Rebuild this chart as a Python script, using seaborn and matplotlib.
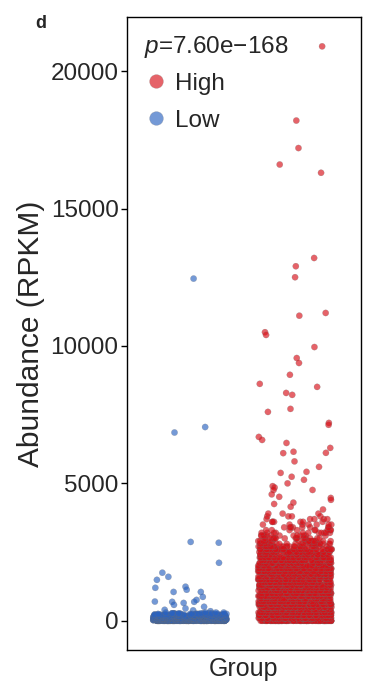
import numpy as np
import pandas as pd
import matplotlib
matplotlib.use("Agg")
import matplotlib.pyplot as plt
import seaborn as sns

# ---------------- data ----------------
groups = ["Low", "High"]
legend_order = ["High", "Low"]
colors = {"High": "#d81018", "Low": "#2a62c0"}
p_label = "$p$=7.60e\u2212168"
y_ticks = [0, 5000, 10000, 15000, 20000]

# High group: scattered points
high_sparse = [20900, 18200, 17200, 16600, 16300, 13200, 12900, 12500, 11200,
               11100, 10500, 10400, 9960, 9560, 9380, 8950, 8620, 8510, 8290,
               8220, 7710, 7600, 7200, 7130, 6690, 6580, 6470, 6290, 6150,
               6110, 6100, 5800, 5600, 5420, 5380, 5240, 5130, 5000, 4900,
               4850, 4760, 4760, 4600, 4510, 4470, 4400, 4300, 4250, 4150, 4050]
# High group: dense block (value levels and number of points at each level)
high_levels = [0, 100, 200, 300, 400, 500, 600, 700, 800, 900, 1000, 1100, 1200,
               1300, 1400, 1500, 1600, 1700, 1800, 1900, 2000, 2100, 2200, 2300,
               2400, 2500, 2600, 2700, 2800, 2900, 3000, 3100, 3200, 3300, 3400,
               3500, 3600, 3700, 3800, 3900]
high_counts = [120, 110, 100, 95, 90, 90, 85, 85, 80, 80, 78, 76, 74, 72, 70, 68,
               66, 64, 62, 60, 58, 55, 52, 50, 46, 42, 38, 32, 26, 20, 16, 13,
               11, 9, 8, 7, 6, 5, 4, 3]

# Low group: scattered points
low_sparse = [12450, 7050, 6850, 2870, 2840, 2110, 1750, 1600, 1490, 1240, 1200,
              1130, 1050, 1050, 870, 760, 700, 690, 690, 650, 580, 510, 450, 400,
              380, 350]
# Low group: dense band
low_levels = [0, 25, 50, 75, 100, 125, 150, 175, 200, 225, 250, 275, 300]
low_counts = [140, 120, 100, 90, 80, 70, 60, 50, 40, 30, 18, 8, 4]

# ---------------- build table ----------------
high_vals = list(high_sparse) + list(np.repeat(high_levels, high_counts))
low_vals = list(low_sparse) + list(np.repeat(low_levels, low_counts))
df = pd.DataFrame({
    "Group": ["High"] * len(high_vals) + ["Low"] * len(low_vals),
    "Abundance": high_vals + low_vals,
})

# ---------------- plot ----------------
sns.set_style("white")
plt.rcParams["font.family"] = ["Liberation Sans", "DejaVu Sans"]
plt.rcParams["mathtext.fontset"] = "custom"
plt.rcParams["mathtext.it"] = "Liberation Sans:italic"
plt.rcParams["mathtext.rm"] = "Liberation Sans"

fig = plt.figure(figsize=(3.71, 6.84), dpi=100)
ax = fig.add_axes([0.342, 0.05, 0.631, 0.925])

np.random.seed(3)
sns.stripplot(data=df, x="Group", y="Abundance", hue="Group",
              order=groups, hue_order=legend_order, palette=colors,
              jitter=0.35, size=4.5, alpha=0.65, linewidth=0.2,
              edgecolor="#707070", ax=ax, legend=True)

ax.set_xlim(-0.6, 1.63)
ax.set_ylim(-1055, 21964)
ax.set_yticks(y_ticks)
ax.set_yticklabels([str(t) for t in y_ticks], fontsize=17.5)
ax.set_xticks([])
ax.set_xlabel("Group", fontsize=18, labelpad=5)
ax.set_ylabel("Abundance (RPKM)", fontsize=21.5, labelpad=4)
ax.tick_params(axis="y", direction="out", length=4, width=1, color="black",
               left=True, pad=2)
for s in ax.spines.values():
    s.set_visible(True)
    s.set_color("black")
    s.set_linewidth(1.0)

leg = ax.legend(title=p_label, loc="upper left", frameon=False,
                fontsize=17.5, title_fontsize=17.5, markerscale=2.2,
                handletextpad=0.3, labelspacing=0.62,
                borderaxespad=0.4, borderpad=0.3, handlelength=1.0,
                alignment="left")
leg._legend_box.sep = 9

fig.text(0.11, 0.966, "d", fontsize=13, fontweight="bold", ha="center", va="center")

fig.savefig("out.png", dpi=100)
